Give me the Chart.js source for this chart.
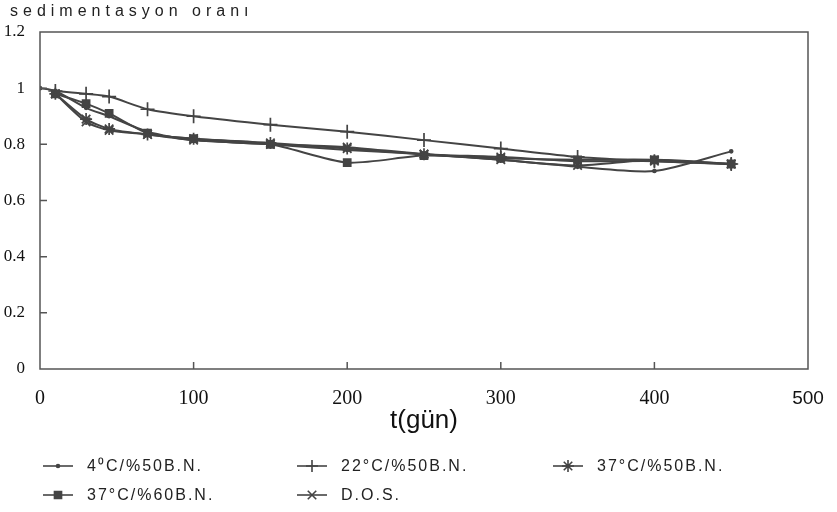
<!DOCTYPE html>
<html>
<head>
<meta charset="utf-8">
<script src="https://cdn.jsdelivr.net/npm/chart.js@4.4.1/dist/chart.umd.min.js"></script>
<style>
  html, body { margin: 0; padding: 0; background: #fff; }
  #wrap { position: relative; width: 837px; height: 512px; }
</style>
</head>
<body>
<div id="wrap"><canvas id="chart" width="837" height="512"></canvas></div>
<script>
// values
const days = [10, 30, 45, 70, 100, 150, 200, 250, 300, 350, 400, 450];
const days4C = [0, 10, 30, 45, 70, 100, 150, 200, 250, 300, 350, 400, 450];

const series4C50 = [1.0, 0.99, 0.93, 0.9, 0.845, 0.815, 0.8, 0.78, 0.765, 0.745, 0.72, 0.705, 0.775];
const series22C50 = [0.99, 0.98, 0.97, 0.925, 0.9, 0.87, 0.845, 0.815, 0.785, 0.755, 0.74, 0.73];
const series37C50 = [0.98, 0.89, 0.855, 0.835, 0.82, 0.805, 0.785, 0.765, 0.755, 0.74, 0.74, 0.73];
const series37C60 = [0.98, 0.945, 0.91, 0.84, 0.82, 0.8, 0.735, 0.76, 0.75, 0.745, 0.745, 0.73];
const seriesDOS = [0.98, 0.88, 0.85, 0.835, 0.815, 0.8, 0.79, 0.765, 0.745, 0.725, 0.745, 0.73];

const xTicks = [0, 100, 200, 300, 400, 500];
const yTicks = [0, 0.2, 0.4, 0.6, 0.8, 1, 1.2];

const legendNames = ['4⁰C/%50B.N.', '22°C/%50B.N.', '37°C/%50B.N.', '37°C/%60B.N.', 'D.O.S.'];

const INK = '#444';
const toPoints = (xs, ys) => xs.map((x, i) => ({ x: x, y: ys[i] }));

const datasets = [
    { label: legendNames[0], data: toPoints(days4C, series4C50), pointStyle: 'circle', pointRadius: 1.5 },
    { label: legendNames[1], data: toPoints(days, series22C50), pointStyle: 'cross', pointRadius: 7 },
    { label: legendNames[2], data: toPoints(days, series37C50), pointStyle: 'star', pointRadius: 6 },
    { label: legendNames[3], data: toPoints(days, series37C60), pointStyle: 'rect', pointRadius: 5 },
    { label: legendNames[4], data: toPoints(days, seriesDOS), pointStyle: 'crossRot', pointRadius: 6 }
].map(ds => Object.assign(ds, {
    borderColor: INK,
    backgroundColor: INK,
    pointBorderColor: INK,
    pointBackgroundColor: INK,
    pointBorderWidth: 1.7,
    borderWidth: 2,
    tension: 0.25,
    fill: false
}));

// frame, inner tick marks, top label and the three-column legend
const decorations = {
    id: 'decorations',
    afterDraw(chart) {
        const ctx = chart.ctx;
        const area = chart.chartArea;
        const xs = chart.scales.x;
        const ys = chart.scales.y;
        ctx.save();
        ctx.strokeStyle = '#555';
        ctx.lineWidth = 1.5;
        ctx.strokeRect(area.left, area.top, area.right - area.left, area.bottom - area.top);

        ctx.beginPath();
        [100, 200, 300, 400].forEach(v => {
            const px = xs.getPixelForValue(v);
            ctx.moveTo(px, area.bottom);
            ctx.lineTo(px, area.bottom - 7);
        });
        [0.2, 0.4, 0.6, 0.8, 1].forEach(v => {
            const py = ys.getPixelForValue(v);
            ctx.moveTo(area.left, py);
            ctx.lineTo(area.left + 7, py);
        });
        ctx.stroke();

        ctx.fillStyle = '#222';
        ctx.font = '16px "Liberation Sans", Arial, sans-serif';
        ctx.letterSpacing = '5px';
        ctx.textBaseline = 'middle';
        ctx.fillText('sedimentasyon oranı', 10, 12);

        const slots = [
            { x: 43, y: 466 }, { x: 297, y: 466 }, { x: 553, y: 466 },
            { x: 43, y: 495 }, { x: 297, y: 495 }
        ];
        ctx.font = '16px "Liberation Sans", Arial, sans-serif';
        ctx.letterSpacing = '2px';
        chart.data.datasets.forEach((ds, i) => {
            const s = slots[i];
            ctx.strokeStyle = INK;
            ctx.fillStyle = INK;
            ctx.lineWidth = 1.6;
            ctx.beginPath();
            ctx.moveTo(s.x, s.y);
            ctx.lineTo(s.x + 30, s.y);
            ctx.stroke();
            Chart.helpers.drawPoint(ctx, {
                pointStyle: ds.pointStyle,
                radius: Math.min(ds.pointRadius, 6),
                borderWidth: 1.6,
                rotation: 0
            }, s.x + 15, s.y);
            ctx.fillStyle = '#222';
            ctx.fillText(ds.label, s.x + 44, s.y + 1);
        });
        ctx.restore();
    }
};

new Chart(document.getElementById('chart').getContext('2d'), {
    type: 'line',
    data: { datasets: datasets },
    options: {
        responsive: false,
        animation: false,
        layout: { padding: { top: 32, right: 29, bottom: 72, left: 0 } },
        plugins: {
            legend: { display: false },
            tooltip: { enabled: false }
        },
        scales: {
            x: {
                type: 'linear',
                min: 0,
                max: 500,
                afterBuildTicks: scale => { scale.ticks = xTicks.map(v => ({ value: v })); },
                afterFit: scale => { scale.height = 71; },
                grid: { display: false },
                border: { display: false },
                ticks: {
                    color: '#111',
                    padding: 10,
                    maxRotation: 0,
                    font: c => (c.tick && c.tick.value === 500)
                        ? { family: '"Liberation Sans", Arial, sans-serif', size: 19 }
                        : { family: '"Liberation Serif", "Times New Roman", serif', size: 20 }
                },
                title: {
                    display: true,
                    text: 't(gün)',
                    color: '#111',
                    font: { family: '"Liberation Sans", Arial, sans-serif', size: 26 },
                    padding: { top: 2 }
                }
            },
            y: {
                min: 0,
                max: 1.2,
                afterBuildTicks: scale => { scale.ticks = yTicks.map(v => ({ value: v })); },
                afterFit: scale => { scale.width = 40; },
                grid: { display: false },
                border: { display: false },
                ticks: {
                    color: '#111',
                    padding: 7,
                    font: { family: '"Liberation Serif", "Times New Roman", serif', size: 17 },
                    callback: v => String(v)
                }
            }
        }
    },
    plugins: [decorations]
});
</script>
</body>
</html>
